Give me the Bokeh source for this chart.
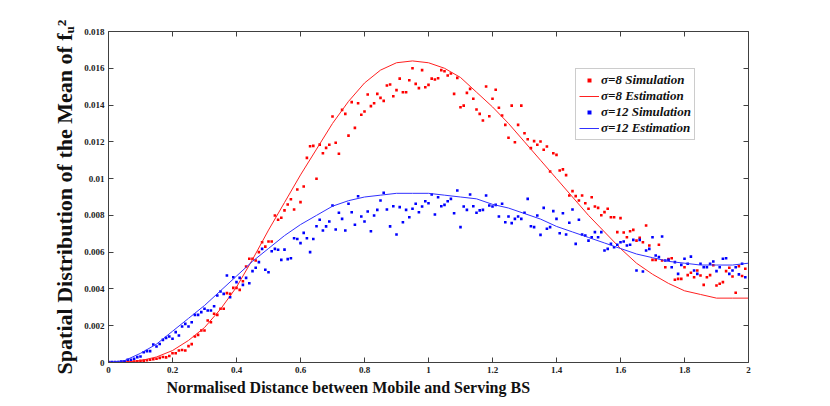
import numpy as np
from bokeh.plotting import figure
from bokeh.models import (LinearAxis, Range1d, FixedTicker, CustomJSTickFormatter,
                          Legend, LegendItem, Title)
from bokeh.embed import file_html
from bokeh.resources import INLINE

# ---------------- data ----------------
x_sim = np.round(np.arange(200) * 0.01, 2)

sim8 = [
    0, 0, 0, 0.00001, 0.00001, 0.00002, 0.00003, 0.00004, 0.00005, 0.00007, 0.00009,
    0.0001, 0.00012, 0.00015, 0.00018, 0.0002, 0.00025, 0.0003, 0.00028, 0.00035,
    0.0005, 0.0005, 0.00065, 0.00068, 0.00065, 0.00089, 0.001, 0.00141, 0.0015, 0.00174,
    0.00174, 0.00228, 0.00219, 0.00265, 0.00259, 0.00292, 0.00292, 0.00377,
    0.00373, 0.00406, 0.00406, 0.00395, 0.00442, 0.00522, 0.00564, 0.00564, 0.00555, 0.006,
    0.00654, 0.0063, 0.00658, 0.00658, 0.00799, 0.00776, 0.00787, 0.00827, 0.00859, 0.00888,
    0.00832, 0.00941, 0.00872, 0.00957, 0.01113, 0.01176, 0.01178, 0.00999, 0.01185, 0.01138,
    0.01167,
    0.01184, 0.01338, 0.01195, 0.01135, 0.01374, 0.01352, 0.01234, 0.01416, 0.01276, 0.0141,
    0.01347, 0.01365, 0.01457, 0.01394, 0.0141, 0.01461, 0.01439, 0.01423, 0.01506, 0.01512,
    0.01448, 0.01481, 0.01544, 0.0147, 0.0147, 0.01535, 0.016, 0.01515, 0.01492, 0.0159,
    0.01497, 0.0151, 0.01544, 0.01539, 0.01546, 0.0159, 0.01584, 0.01561, 0.01572, 0.01461,
    0.01548, 0.01388, 0.01397, 0.01466, 0.01488, 0.01434, 0.01376, 0.01352, 0.01316, 0.01501,
    0.01339, 0.01434, 0.01483,
    0.01385, 0.01343, 0.01292, 0.01222, 0.01397, 0.01198, 0.01292, 0.01397, 0.01247, 0.01214,
    0.01166, 0.01204, 0.01184, 0.01202, 0.01157, 0.01175, 0.01039, 0.01138, 0.01129, 0.01044,
    0.0105, 0.01019, 0.00908, 0.00932, 0.00905, 0.00881, 0.00908, 0.00866, 0.00836, 0.00899,
    0.00848, 0.00841, 0.00801, 0.00818, 0.00836, 0.0079, 0.0079, 0.00709, 0.00785, 0.00707,
    0.00681, 0.00714, 0.00721, 0.00663, 0.00678, 0.00654, 0.00745, 0.00636, 0.00558, 0.00558,
    0.0064, 0.00555, 0.00518, 0.00562, 0.00567, 0.0045, 0.00455, 0.00455, 0.00518, 0.00475,
    0.00488, 0.00464, 0.005, 0.00473, 0.00422, 0.00464, 0.00475, 0.00529, 0.00419, 0.00428,
    0.00437, 0.00497, 0.00515, 0.00468, 0.00379, 0.00524, 0.0047, 0.0051,
]

sim12 = [
    0.00002, 0.00002, 0.00002, 0.00002, 0.00005, 0.00007, 0.00015, 0.00015, 0.0002, 0.00029,
    0.00033, 0.00056, 0.00062, 0.00062, 0.00098, 0.00087, 0.00101, 0.00123, 0.00134, 0.00141,
    0.00129, 0.00165, 0.00147, 0.00196, 0.0021, 0.00196, 0.00219, 0.00259, 0.00259, 0.00274,
    0.00292, 0.00283, 0.00283, 0.00306, 0.00364, 0.00386, 0.00373, 0.00473, 0.00355, 0.00464,
    0.00437, 0.0046, 0.00422, 0.0046, 0.00431, 0.00497, 0.00515, 0.00546, 0.00618, 0.00504,
    0.00491, 0.00605, 0.00618, 0.00613, 0.00558, 0.00614, 0.00562, 0.00567, 0.00676, 0.00672,
    0.00649, 0.00705, 0.00676, 0.006, 0.00672, 0.00741,
    0.00776, 0.00718, 0.0074,
    0.00767, 0.00854, 0.00723, 0.00814, 0.00781, 0.00718, 0.00863, 0.00817, 0.00749, 0.00904,
    0.00794, 0.00767, 0.00821, 0.00714, 0.00799, 0.0083, 0.00881, 0.00923, 0.00832, 0.0074,
    0.0085, 0.00696, 0.00845, 0.00763, 0.0083, 0.0079, 0.00836, 0.00863, 0.00817, 0.00848,
    0.00877, 0.00866, 0.00914, 0.00805, 0.00899, 0.0085, 0.00857, 0.00877, 0.0089, 0.00812,
    0.00935, 0.00736, 0.00848, 0.0083, 0.00914, 0.0085, 0.00814, 0.00827, 0.0083, 0.00908,
    0.00854, 0.00848, 0.00857,
    0.00794, 0.00863, 0.00763, 0.00794, 0.00758, 0.00781, 0.00794, 0.00781, 0.00814, 0.0089,
    0.00741, 0.00736, 0.00799, 0.00694, 0.00841, 0.00727, 0.00736, 0.00823, 0.00781, 0.00703,
    0.00812, 0.00696, 0.0076, 0.00832, 0.00645, 0.00776, 0.00696, 0.00691, 0.00663, 0.00681,
    0.00709, 0.00681, 0.00709, 0.00609, 0.00618, 0.00645, 0.00627, 0.0064, 0.00654, 0.00658,
    0.00636, 0.0064, 0.00667, 0.005, 0.00667, 0.00495, 0.00609, 0.00618, 0.00681, 0.00582,
    0.00573, 0.00685, 0.00555, 0.00558, 0.00518, 0.00546, 0.00482, 0.00531, 0.00564, 0.00537,
    0.00576, 0.005, 0.00482, 0.00537, 0.00518, 0.00518, 0.00537, 0.00549, 0.00497, 0.00518,
    0.00564, 0.00567, 0.00482, 0.005, 0.00518, 0.00479, 0.00537, 0.00464,
]

x_est = [0, 0.05, 0.1, 0.15, 0.2, 0.25, 0.3, 0.35, 0.4, 0.45, 0.5, 0.55, 0.6, 0.65, 0.7,
         0.75, 0.8, 0.85, 0.9, 0.95, 1.0, 1.05, 1.1, 1.15, 1.2, 1.25, 1.3, 1.35, 1.4, 1.45,
         1.5, 1.55, 1.6, 1.65, 1.7, 1.75, 1.8, 1.85, 1.9, 1.95, 2.0]
est8 = [0, 0.00002, 0.0001, 0.0003, 0.00065, 0.0012, 0.0019, 0.0029, 0.0041, 0.0056,
        0.0072, 0.0087, 0.0102, 0.0116, 0.0130, 0.0142, 0.0152, 0.0159, 0.0163, 0.0164,
        0.0163, 0.0160, 0.0155, 0.0147, 0.0139, 0.0130, 0.0120, 0.0110, 0.0100, 0.0090,
        0.0080, 0.0071, 0.0062, 0.0054, 0.0048, 0.0043, 0.0039, 0.0037, 0.0035, 0.0035, 0.0035]
est12 = [0, 0.0001, 0.0005, 0.0010, 0.0017, 0.0024, 0.0031, 0.0039, 0.0047, 0.0055,
         0.0062, 0.0069, 0.0075, 0.0080, 0.0085, 0.0088, 0.0090, 0.0091, 0.0092, 0.0092,
         0.0092, 0.0091, 0.0090, 0.0089, 0.0086, 0.0084, 0.0081, 0.0078, 0.0074, 0.0071,
         0.0068, 0.0065, 0.0062, 0.0059, 0.0057, 0.0055, 0.0054, 0.0053, 0.0053, 0.0053, 0.0054]

x_ticks = [0, 0.2, 0.4, 0.6, 0.8, 1.0, 1.2, 1.4, 1.6, 1.8, 2.0]
y_ticks = [0, 0.002, 0.004, 0.006, 0.008, 0.010, 0.012, 0.014, 0.016, 0.018]

labels = ["\u03c3=8 Simulation", "\u03c3=8 Estimation",
          "\u03c3=12 Simulation", "\u03c3=12 Estimation"]
x_title = "Normalised Distance between Mobile and Serving BS"
y_title = "Spatial Distribution of the Mean of f\u1d64\u00b2"

# ---------------- figure ----------------
FONT = "Liberation Serif"
AX = "#404040"
TXT = "#111111"

p = figure(width=822, height=398, output_backend="svg", toolbar_location=None,
           x_range=Range1d(0, 2), y_range=Range1d(0, 0.018),
           min_border_left=108, min_border_right=74, min_border_top=31, min_border_bottom=36,
           x_axis_location=None, y_axis_location=None)
p.grid.visible = False
p.outline_line_color = None
p.background_fill_color = "white"

fx = CustomJSTickFormatter(code="return tick.toFixed(1).replace(/\\.?0+$/, '');")
fy = CustomJSTickFormatter(code="return tick.toFixed(3).replace(/\\.?0+$/, '');")
fe = CustomJSTickFormatter(code="return '';")

def style(ax, ticks, fmt, show):
    ax.ticker = FixedTicker(ticks=ticks)
    ax.formatter = fmt
    ax.axis_line_color = AX
    ax.major_tick_line_color = AX
    ax.major_tick_in = 5
    ax.major_tick_out = 0
    ax.minor_tick_line_color = None
    ax.major_label_text_font = FONT
    ax.major_label_text_font_style = "bold"
    ax.major_label_text_font_size = "9px" if show else "0px"
    ax.major_label_text_color = "#222222"
    ax.major_label_standoff = 4

xb = LinearAxis(); style(xb, x_ticks, fx, True)
xt = LinearAxis(); style(xt, x_ticks, fe, False)
yl = LinearAxis(); style(yl, y_ticks, fy, True)
yr = LinearAxis(); style(yr, y_ticks, fe, False)

yl.axis_label = y_title
yl.axis_label_text_font = FONT
yl.axis_label_text_font_style = "bold"
yl.axis_label_text_font_size = "22px"
yl.axis_label_text_color = TXT
yl.axis_label_standoff = 4

p.add_layout(xb, "below")
p.add_layout(xt, "above")
p.add_layout(yl, "left")
p.add_layout(yr, "right")

p.add_layout(Title(text=x_title, align="left", offset=58, text_font=FONT,
                   text_font_style="bold", text_font_size="16px",
                   text_color=TXT, standoff=3), "below")

# ---------------- glyphs ----------------
r1 = p.scatter(x_sim, sim8, marker="square", size=2.6, fill_color="#ff0000", line_color=None)
r2 = p.line(x_est, est8, line_color="#ff2020", line_width=1)
r3 = p.scatter(x_sim, sim12, marker="square", size=2.6, fill_color="#0000ff", line_color=None)
r4 = p.line(x_est, est12, line_color="#3030ff", line_width=1)

legend = Legend(items=[LegendItem(label=labels[0], renderers=[r1]),
                       LegendItem(label=labels[1], renderers=[r2]),
                       LegendItem(label=labels[2], renderers=[r3]),
                       LegendItem(label=labels[3], renderers=[r4])],
                location=(467, 222))
legend.label_text_font = FONT
legend.label_text_font_style = "bold italic"
legend.label_text_font_size = "13px"
legend.label_text_color = TXT
legend.label_height = 10
legend.label_standoff = 2
legend.glyph_width = 20
legend.glyph_height = 10
legend.spacing = 0
legend.padding = 3
legend.margin = 0
legend.border_line_color = "#999999"
legend.border_line_width = 1
legend.background_fill_color = "white"
p.add_layout(legend, "center")

open("out.html", "w").write(file_html(p, INLINE))
